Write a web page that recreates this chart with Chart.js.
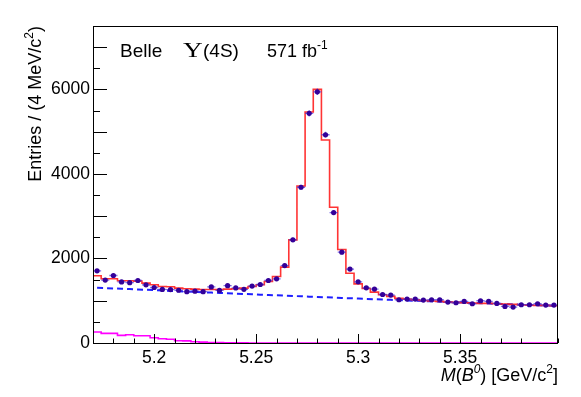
<!DOCTYPE html>
<html>
<head>
<meta charset="utf-8">
<script src="https://cdn.jsdelivr.net/npm/chart.js@4.4.0/dist/chart.umd.min.js"></script>
<style>
html, body { margin: 0; padding: 0; background: #fff; }
canvas { display: block; }
</style>
</head>
<body>
<canvas id="grafico" width="581" height="397"></canvas>
<script>
// rango del histograma (bins de 4 MeV)
var xMin = 5.17, xMax = 5.398, anchoBin = 0.004;
var yMin = 0, yMax = 7500;
var xEtiquetas = [5.2, 5.25, 5.3, 5.35];
var yEtiquetas = [0, 2000, 4000, 6000];

// entradas por bin (puntos)
var datos = [1708, 1488, 1597, 1445, 1428, 1479, 1377, 1313, 1267, 1265, 1248, 1215, 1225, 1215, 1327,
    1243, 1357, 1302, 1270, 1346, 1384, 1479, 1519, 1833, 2440, 3685, 5433, 5943, 4927, 3085,
    2149, 1748, 1448, 1306, 1275, 1148, 1134, 1023, 1039, 1039, 1016, 1023, 1023, 968, 952,
    983, 929, 1000, 983, 937, 865, 850, 905, 905, 929, 897, 897];
// ajuste total (rojo)
var ajuste = [1590, 1519, 1519, 1472, 1472, 1465, 1417, 1377, 1338, 1330, 1299, 1283, 1275, 1267, 1267,
    1267, 1275, 1283, 1298, 1338, 1377, 1455, 1573, 1794, 2440, 3716, 5465, 6000, 4802, 3212,
    2212, 1652, 1400, 1290, 1204, 1141, 1102, 1055, 1039, 1023, 1007, 992, 984, 968, 960,
    952, 944, 937, 937, 929, 921, 913, 905, 897, 889, 889, 881];
// fondo combinatorio (azul discontinuo)
var fondo = [1309, 1300, 1292, 1283, 1275, 1266, 1258, 1250, 1241, 1233, 1225, 1217, 1208, 1200, 1192,
    1184, 1176, 1168, 1160, 1152, 1144, 1136, 1128, 1120, 1113, 1105, 1097, 1089, 1082, 1074,
    1066, 1059, 1051, 1044, 1036, 1029, 1021, 1014, 1007, 999, 992, 985, 978, 970, 963,
    956, 949, 942, 935, 928, 921, 914, 907, 900, 893, 887, 880];
// fondo con pico (magenta)
var picos = [260, 227, 227, 180, 196, 172, 172, 125, 100, 90, 54, 50, 30, 20, 12,
    8, 5, 3, 2, 1, 1, 1, 1, 1, 1, 1, 1, 1, 1, 1,
    0, 0, 0, 0, 0, 0, 0, 0, 0, 0, 0, 0, 0, 0, 0,
    0, 0, 0, 0, 0, 0, 0, 0, 0, 0, 0, 0];

var centros = datos.map(function (v, i) { return xMin + anchoBin * (i + 0.5); });

function escalones(valores) {
    var pts = [];
    for (var i = 0; i < valores.length; i++) {
        pts.push({ x: xMin + anchoBin * i, y: valores[i] });
    }
    pts.push({ x: xMin + anchoBin * valores.length, y: valores[valores.length - 1] });
    return pts;
}

function esEtiqueta(v, lista) {
    for (var i = 0; i < lista.length; i++) {
        if (Math.abs(v - lista[i]) < 1e-7) return true;
    }
    return false;
}

var sans = '"Liberation Sans", Arial, sans-serif';

// dibuja trozos de texto seguidos (para superindices)
function trozos(ctx, partes, x0, y0) {
    var x = x0;
    partes.forEach(function (p) {
        ctx.font = p[1];
        ctx.fillText(p[0], x, y0 + (p[2] || 0));
        x += ctx.measureText(p[0]).width;
    });
}
function anchoTrozos(ctx, partes) {
    var w = 0;
    partes.forEach(function (p) { ctx.font = p[1]; w += ctx.measureText(p[0]).width; });
    return w;
}

var barrasError = {
    id: 'barrasError',
    beforeDatasetDraw: function (chart, args) {
        if (args.index !== 0) return;
        var ctx = chart.ctx, sx = chart.scales.x, sy = chart.scales.y;
        ctx.save();
        ctx.strokeStyle = 'rgba(70,50,220,0.7)';
        ctx.lineWidth = 1.3;
        ctx.beginPath();
        for (var i = 0; i < datos.length; i++) {
            var c = centros[i], v = datos[i], e = Math.sqrt(v);
            var px = sx.getPixelForValue(c), py = sy.getPixelForValue(v);
            ctx.moveTo(sx.getPixelForValue(c - anchoBin / 2), py);
            ctx.lineTo(sx.getPixelForValue(c + anchoBin / 2), py);
            ctx.moveTo(px, sy.getPixelForValue(v - e));
            ctx.lineTo(px, sy.getPixelForValue(v + e));
        }
        ctx.stroke();
        ctx.restore();
    }
};

var marco = {
    id: 'marco',
    afterDraw: function (chart) {
        var ctx = chart.ctx, a = chart.chartArea, sx = chart.scales.x, sy = chart.scales.y;
        ctx.save();
        ctx.strokeStyle = '#000';
        ctx.lineWidth = 1;
        ctx.strokeRect(a.left + 0.5, a.top + 0.5, a.right - a.left - 1, a.bottom - a.top);
        // marcas hacia dentro, estilo ROOT
        ctx.beginPath();
        sx.ticks.forEach(function (t) {
            var px = Math.round(sx.getPixelForValue(t.value)) + 0.5;
            var l = esEtiqueta(t.value, xEtiquetas) ? 9 : 4.5;
            ctx.moveTo(px, a.bottom);
            ctx.lineTo(px, a.bottom - l);
        });
        sy.ticks.forEach(function (t) {
            var py = Math.round(sy.getPixelForValue(t.value)) + 0.5;
            var l = t.value % 1000 === 0 ? 14 : 7;
            ctx.moveTo(a.left, py);
            ctx.lineTo(a.left + l, py);
        });
        ctx.stroke();

        ctx.fillStyle = '#000';
        ctx.textBaseline = 'alphabetic';
        ctx.textAlign = 'left';
        // cabecera
        ctx.font = '19px ' + sans;
        ctx.fillText('Belle', 120, 57);
        ctx.save();
        ctx.translate(183, 57);
        ctx.scale(1.3, 1);
        ctx.font = '21px "Liberation Serif", serif';
        ctx.fillText('\u03A5', 0, 0);
        ctx.restore();
        ctx.font = '19px ' + sans;
        ctx.fillText('(4S)', 203, 57);
        trozos(ctx, [['571 fb', '18px ' + sans], ['-1', '12px ' + sans, -8]], 267, 57);

        // titulo eje x
        var tx = [['M', 'italic 18px ' + sans], ['(', '18px ' + sans], ['B', 'italic 18px ' + sans],
            ['0', 'italic 12px ' + sans, -8], [') [GeV/c', '18px ' + sans], ['2', '12px ' + sans, -8],
            [']', '18px ' + sans]];
        trozos(ctx, tx, a.right - anchoTrozos(ctx, tx), 381);

        // titulo eje y
        var ty = [['Entries / (4 MeV/c', '18px ' + sans], ['2', '12px ' + sans, -8], [')', '18px ' + sans]];
        ctx.translate(40.5, a.top);
        ctx.rotate(-Math.PI / 2);
        trozos(ctx, ty, -anchoTrozos(ctx, ty), 0);
        ctx.restore();
    }
};

var ctx = document.getElementById('grafico');
var grafico = new Chart(ctx, {
    type: 'scatter',
    data: {
        datasets: [{
            label: 'Datos',
            data: datos.map(function (v, i) { return { x: centros[i], y: v }; }),
            pointRadius: 2.6,
            pointBackgroundColor: '#330099',
            pointBorderWidth: 0,
            showLine: false,
            order: 0
        }, {
            label: 'Ajuste',
            data: escalones(ajuste),
            showLine: true,
            stepped: true,
            borderColor: 'rgba(255,30,30,0.9)',
            borderWidth: 1.6,
            pointRadius: 0,
            order: 1
        }, {
            label: 'Fondo',
            data: fondo.map(function (v, i) { return { x: centros[i], y: v }; }),
            showLine: true,
            borderColor: '#1f1fff',
            borderWidth: 2,
            borderDash: [6, 4],
            pointRadius: 0,
            order: 2
        }, {
            label: 'Pico',
            data: escalones(picos),
            showLine: true,
            stepped: true,
            borderColor: '#ff00ff',
            borderWidth: 1.6,
            pointRadius: 0,
            order: 3
        }]
    },
    options: {
        responsive: false,
        animation: false,
        devicePixelRatio: 1,
        layout: { padding: { left: 0, right: 23, top: 26, bottom: 0 } },
        plugins: { legend: { display: false }, tooltip: { enabled: false } },
        scales: {
            x: {
                type: 'linear', min: xMin, max: xMax,
                afterFit: function (s) { s.height = 54; },
                grid: { display: false, drawTicks: false },
                border: { display: false },
                ticks: {
                    stepSize: 0.01, autoSkip: false, maxRotation: 0, padding: 5,
                    color: '#000', font: { family: sans, size: 17.5 },
                    callback: function (v) { return esEtiqueta(v, xEtiquetas) ? String(Number(v.toFixed(2))) : ''; }
                }
            },
            y: {
                min: yMin, max: yMax,
                afterFit: function (s) { s.width = 93; },
                grid: { display: false, drawTicks: false },
                border: { display: false },
                ticks: {
                    stepSize: 500, autoSkip: false, padding: 3,
                    color: '#000', font: { family: sans, size: 17.5 },
                    callback: function (v) { return esEtiqueta(v, yEtiquetas) ? String(v) : ''; }
                }
            }
        }
    },
    plugins: [barrasError, marco]
});
</script>
</body>
</html>
